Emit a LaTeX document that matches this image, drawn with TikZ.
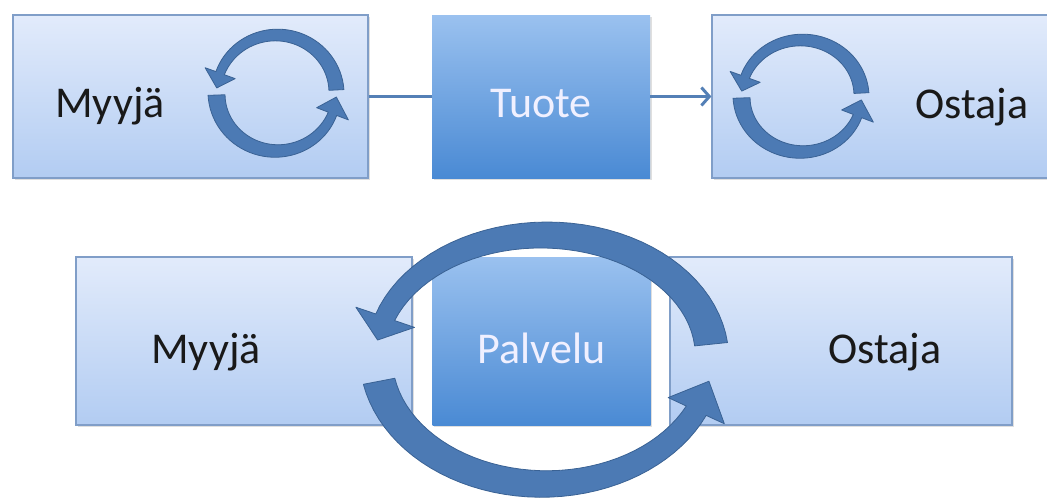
\documentclass[tikz,border=0pt]{standalone}
\usepackage{fontspec}
\setmainfont{Carlito}
\usetikzlibrary{arrows.meta,shadows}

\definecolor{laatikkoyla}{RGB}{226,235,251}
\definecolor{laatikkoala}{RGB}{178,204,242}
\definecolor{laatikkoreuna}{RGB}{128,158,200}
\definecolor{tummayla}{RGB}{154,193,239}
\definecolor{tummaala}{RGB}{74,138,212}
\definecolor{nuolivari}{RGB}{76,122,180}
\definecolor{nuolireuna}{RGB}{58,98,148}
\definecolor{viivavari}{RGB}{84,128,182}

% keskipiste, x-sade, y-sade, hanta, karjen kanta, karki, hannan leveys, kannan leveys, karjen puolileveys
\newcommand{\kiertonuoli}[9]{%
  \begin{scope}[shift={(#1)}]
    \path[nuoli] plot[domain=0:1, samples=40, variable=\s]
        ({((#2)+((#7)+((#8)-(#7))*\s)/2)*cos((#4)+((#5)-(#4))*\s)}, {((#3)+((#7)+((#8)-(#7))*\s)/2)*sin((#4)+((#5)-(#4))*\s)})
      -- ({((#2)+(#9))*cos(#5)}, {((#3)+(#9))*sin(#5)})
      -- ({(#2)*cos(#6)}, {(#3)*sin(#6)})
      -- ({((#2)-(#9))*cos(#5)}, {((#3)-(#9))*sin(#5)})
      -- plot[domain=0:1, samples=40, variable=\s]
        ({((#2)-((#8)+((#7)-(#8))*\s)/2)*cos((#5)+((#4)-(#5))*\s)}, {((#3)-((#8)+((#7)-(#8))*\s)/2)*sin((#5)+((#4)-(#5))*\s)})
      -- cycle;
  \end{scope}}

\begin{document}
\begin{tikzpicture}[x=1pt, y=-1pt,
  vaalea/.style={rectangle, draw=laatikkoreuna, line width=1.2pt, top color=laatikkoyla, bottom color=laatikkoala, inner sep=0pt,
    drop shadow={shadow xshift=1.5pt, shadow yshift=-2pt, opacity=0.25}},
  tumma/.style={rectangle, top color=tummayla, bottom color=tummaala, minimum width=218pt, inner sep=0pt,
    drop shadow={shadow xshift=1.5pt, shadow yshift=-2pt, opacity=0.25}},
  teksti/.style={anchor=base, inner sep=0pt, font=\fontsize{44}{52}\selectfont, text=black!90},
  valkoteksti/.style={teksti, text=white!94!blue},
  yhteys/.style={draw=viivavari, line width=3pt},
  nuoli/.style={draw=nuolireuna, line width=0.8pt, fill=nuolivari, line join=round}]
\clip (0,0) rectangle (1047,501);

\node[vaalea, minimum width=355pt, minimum height=163pt] (myyja1) at (190.5,96.5) {};
\node[tumma, minimum height=163pt] (tuote) at (541,96.5) {};
\node[vaalea, minimum width=360pt, minimum height=163pt] (ostaja1) at (892,96.5) {};
\node[teksti] (myyja1teksti) at (110,117) {Myyjä};
\node[valkoteksti] (tuoteteksti) at (541,117) {Tuote};
\node[teksti] (ostaja1teksti) at (972,118) {Ostaja};
\draw[yhteys] (myyja1) -- (tuote);
\draw[yhteys, -{Straight Barb[length=8pt, width=18pt]}] (tuote) -- (ostaja1);

\kiertonuoli{276.5,93}{60}{58}{-3}{-160}{-175}{15}{9}{16}
\kiertonuoli{276.5,93}{60}{58}{178}{21}{4}{17}{9}{17}
\kiertonuoli{801.5,96}{60}{56}{-3}{-160}{-175}{15}{9}{16}
\kiertonuoli{801.5,96}{60}{56}{178}{21}{4}{17}{9}{17}

\node[vaalea, minimum width=336pt, minimum height=168pt] (myyja2) at (244,341) {};
\node[tumma, minimum height=168pt] (palvelu) at (541.5,341) {};
\node[vaalea, minimum width=342pt, minimum height=168pt] (ostaja2) at (841,341) {};
\node[teksti] (myyja2teksti) at (206,363) {Myyjä};
\node[valkoteksti] (palveluteksti) at (541.5,363) {Palvelu};
\node[teksti] (ostaja2teksti) at (885,363) {Ostaja};

\kiertonuoli{544,357}{168}{122}{-6}{-161}{-172}{33}{20}{31}
\kiertonuoli{544,357}{168}{127}{169}{25}{11}{32}{22}{31}
\end{tikzpicture}
\end{document}
